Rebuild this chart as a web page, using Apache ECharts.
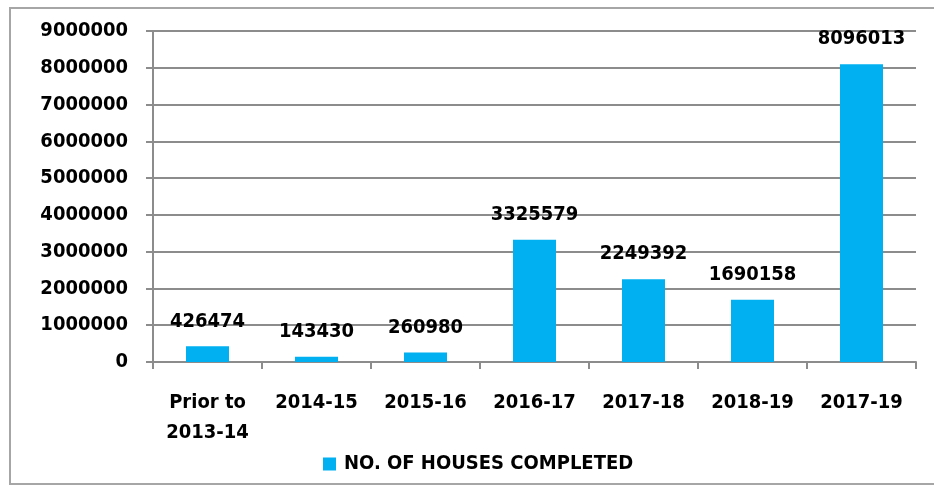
<!DOCTYPE html>
<html>
<head>
<meta charset="utf-8">
<script src="https://cdn.jsdelivr.net/npm/echarts@6/dist/echarts.min.js"></script>
<style>
  html, body { margin: 0; padding: 0; background: #fff; }
  #frame { position: absolute; left: 9px; top: 7px; width: 940px; height: 478px; border: 2px solid #a6a6a6; box-sizing: border-box; }
  #chart { width: 934px; height: 489px; position: absolute; left: 0; top: 0; }
</style>
</head>
<body>
<div id="frame"></div>
<div id="chart"></div>
<script>
// 数据
const categories = ["Prior to\n2013-14", "2014-15", "2015-16", "2016-17", "2017-18", "2018-19", "2017-19"];
const houses = [426474, 143430, 260980, 3325579, 2249392, 1690158, 8096013];
const seriesName = "NO. OF HOUSES COMPLETED";

const font = "'DejaVu Sans Condensed', 'Liberation Sans Narrow', 'Liberation Sans', sans-serif";
const chart = echarts.init(document.getElementById("chart"));
const option = {
  animation: false,
  textStyle: { fontFamily: font },
  grid: {
    left: 153,
    right: 18,
    top: 31,
    bottom: 127
  },
  legend: {
    bottom: 10,
    left: 318,
    itemWidth: 13,
    itemHeight: 13,
    icon: "rect",
    textStyle: { fontFamily: font, fontSize: 20, fontWeight: "bold", color: "#000", padding: [0, 0, 0, 3] },
    data: [seriesName]
  },
  xAxis: {
    type: "category",
    data: categories,
    axisLine: { lineStyle: { color: "#8c8c8c", width: 2 } },
    axisTick: { show: true, length: 7, lineStyle: { color: "#8c8c8c", width: 2 } },
    axisLabel: {
      fontFamily: font,
      fontSize: 20,
      fontWeight: "bold",
      color: "#000",
      margin: 26,
      lineHeight: 30
    }
  },
  yAxis: {
    type: "value",
    min: 0,
    max: 9000000,
    interval: 1000000,
    axisLine: { show: true, lineStyle: { color: "#8c8c8c", width: 2 } },
    axisTick: { show: true, length: 7, lineStyle: { color: "#8c8c8c", width: 2 } },
    splitLine: { lineStyle: { color: "#8c8c8c", width: 2 } },
    axisLabel: {
      fontFamily: font,
      fontSize: 20,
      fontWeight: "bold",
      color: "#000",
      margin: 25,
      formatter: function(value) {
        return String(value);
      }
    }
  },
  series: [
    {
      name: seriesName,
      type: "bar",
      data: houses,
      barWidth: 43,
      itemStyle: { color: "#00b0f0" },
      label: {
        show: true,
        position: "top",
        distance: 15,
        fontFamily: font,
        fontSize: 20,
        fontWeight: "bold",
        color: "#000"
      }
    }
  ]
};
chart.setOption(option);
</script>
</body>
</html>
